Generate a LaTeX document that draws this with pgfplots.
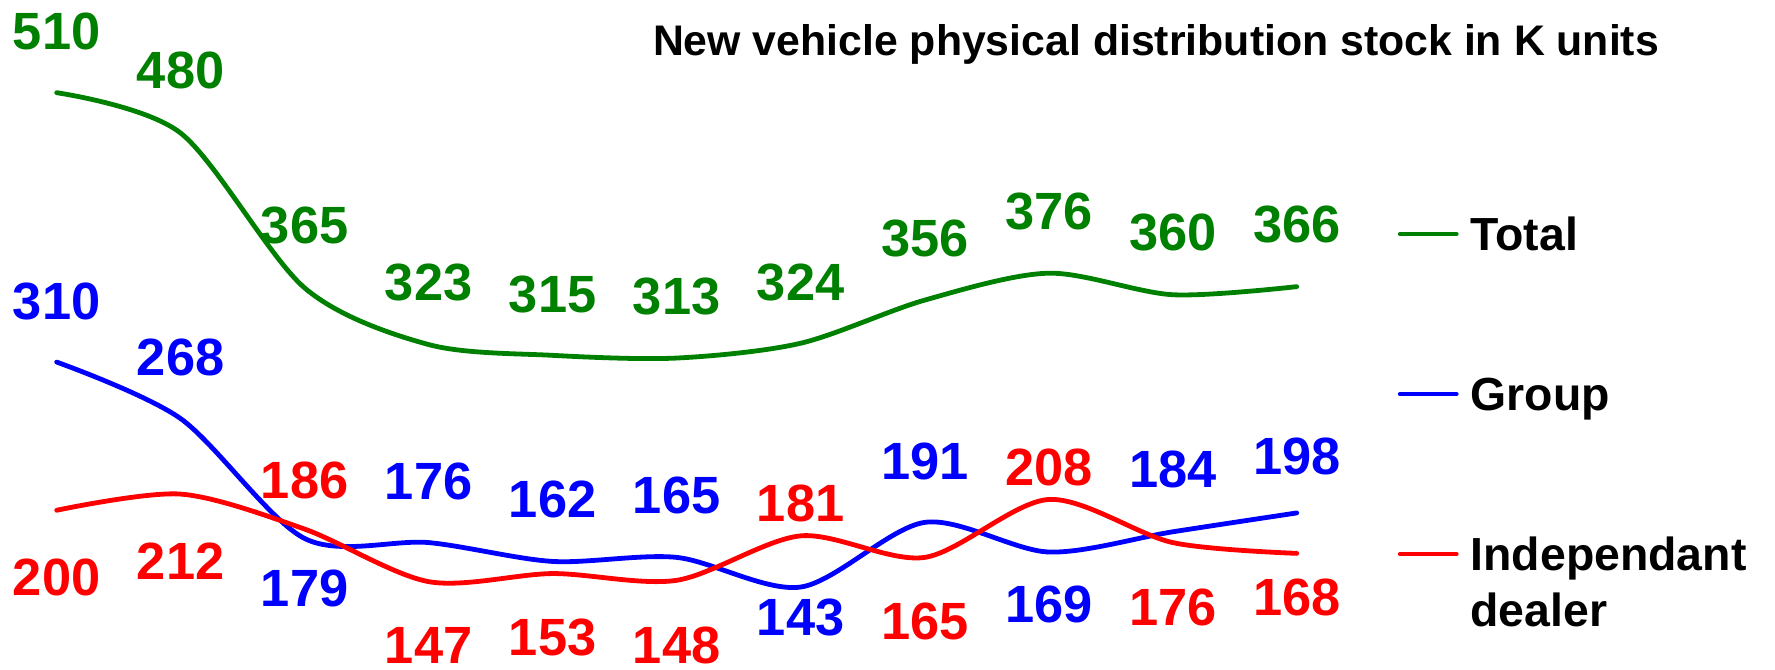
\documentclass[border=0pt]{standalone}
\usepackage{fontspec}
\setmainfont{Liberation Sans}
\usepackage{pgfplots}
\usepackage{pgfplotstable}
\pgfplotsset{compat=1.18}
\definecolor{cgreen}{RGB}{0,128,0}
\definecolor{cblue}{RGB}{0,0,255}
\definecolor{cred}{RGB}{255,0,0}
\pgfplotstableread{
x y dy
0 510 15.4
1 480 15.7
2 365 15.5
3 323 15.5
4 315 15.3
5 313 15.5
6 324 15.3
7 356 15.5
8 376 15.3
9 360 15.5
10 366 15.6
}\total
\pgfplotstableread{
x y dy
0 310 15.1
1 268 15.2
2 179 -12.6
3 176 15.2
4 162 15.6
5 165 15.4
6 143 -7.6
7 191 15.3
8 169 -13
9 184 15.6
10 198 14
}\group
\pgfplotstableread{
x y dy
0 200 -16.7
1 212 -16.7
2 186 12.1
3 147 -15.9
4 153 -16
5 148 -16.2
6 181 8
7 165 -15.9
8 208 8
9 176 -16.2
10 168 -11
}\indep
\pgfplotsset{
  lbl/.style={
    point meta=explicit symbolic,
    nodes near coords={\pgfplotspointmeta},
    visualization depends on={\thisrow{dy} \as \dy},
    every node near coord/.append style={font=\bfseries\fontsize{13.1}{15}\selectfont, anchor=center, inner sep=0pt, yshift=\dy pt, text=#1},
  }
}
\begin{document}
\begin{tikzpicture}
\useasboundingbox (0,0) rectangle (443.75pt,167.5pt);
\begin{axis}[
  at={(14.175pt,6.258pt)}, anchor=south west,
  scale only axis, width=310pt, height=151.54pt,
  xmin=0, xmax=10, ymin=100, ymax=550,
  hide axis, clip=false,
  every axis plot/.append style={line width=1.2pt, line cap=round, line join=round, smooth, tension=0.5, no markers},
  legend cell align=left,
  legend style={at={(1.0809,0.7189)}, anchor=north west, draw=none, fill=none, inner sep=0pt,
    row sep=28pt, column sep=3pt, font=\bfseries\fontsize{11.6}{14}\selectfont,
    nodes={inner sep=0pt, text height=10.1pt, text depth=1.9pt}},
  legend image code/.code={\draw[#1, line width=1.2pt, line cap=round] (0pt,0pt) -- (14pt,0pt);},
]
\addplot[color=cgreen, lbl=cgreen] table[x=x, y=y, meta=y] {\total};
\addlegendentry{Total}
\addplot[color=cblue, lbl=cblue] table[x=x, y=y, meta=y] {\group};
\addlegendentry{Group}
\addplot[color=cred, lbl=cred] table[x=x, y=y, meta=y] {\indep};
\addlegendentry{\begin{tabular}[t]{@{}l@{}}Independant\\dealer\end{tabular}}
\end{axis}
\node[font=\bfseries\fontsize{10.7}{13}\selectfont, anchor=base, inner sep=0pt] at (289pt,153.7pt) {New vehicle physical distribution stock in K units};
\end{tikzpicture}
\end{document}
